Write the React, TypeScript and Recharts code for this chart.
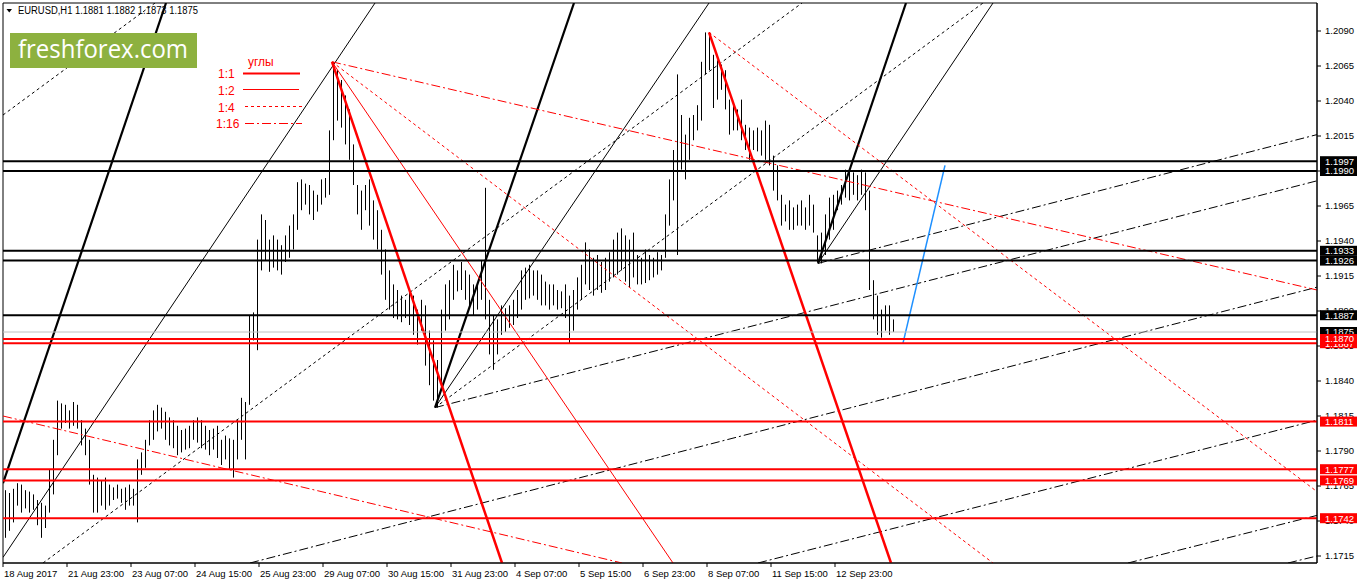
import React from "react";
import { ComposedChart, Bar, XAxis, YAxis, ReferenceLine, ReferenceArea } from "recharts";

const W = 1358;
const H = 584;

// time axis (hour index of H1 bars)
const timeTicks = [0, 32, 64, 96, 128, 160, 192, 224, 256, 288, 320, 352, 384, 416];
const timeLabels = [
  "18 Aug 2017", "21 Aug 23:00", "23 Aug 07:00", "24 Aug 15:00", "25 Aug 23:00",
  "29 Aug 07:00", "30 Aug 15:00", "31 Aug 23:00", "4 Sep 07:00", "5 Sep 15:00",
  "6 Sep 23:00", "8 Sep 07:00", "11 Sep 15:00", "12 Sep 23:00",
];
const priceTicks = [
  1.1715, 1.174, 1.1765, 1.179, 1.1815, 1.184, 1.1865, 1.189,
  1.1915, 1.194, 1.1965, 1.199, 1.2015, 1.204, 1.2065, 1.209,
];

// bar highs / lows (one entry per 2 hours)
const barHighs = [
  1.1762, 1.1760, 1.1763, 1.1767, 1.1766, 1.1762, 1.1761, 1.1759, 1.1755, 1.1753,
  1.1751, 1.1777, 1.1798, 1.1826, 1.1824, 1.1823, 1.1819, 1.1825, 1.1823, 1.1812,
  1.1806, 1.1798, 1.1773, 1.1771, 1.1769, 1.1771, 1.1766, 1.1764, 1.1766, 1.1763,
  1.1764, 1.1766, 1.1763, 1.1784, 1.1789, 1.1798, 1.1812, 1.1819, 1.1823, 1.1821,
  1.1818, 1.1814, 1.1812, 1.1808, 1.1805, 1.1806, 1.1808, 1.1812, 1.1814, 1.1812,
  1.1808, 1.1805, 1.1806, 1.1808, 1.1798, 1.1801, 1.1799, 1.1798, 1.1812, 1.1828,
  1.1825, 1.1887, 1.1889, 1.1941, 1.1959, 1.1955, 1.1941, 1.1944, 1.1941, 1.1937,
  1.1944, 1.1951, 1.1959, 1.1982, 1.1984, 1.1981, 1.1980, 1.1976, 1.1973, 1.1984,
  1.1985, 1.2019, 1.2068, 1.2062, 1.2055, 1.2044, 1.2034, 1.2009, 1.1980, 1.1976,
  1.1980, 1.1984, 1.1969, 1.1962, 1.1948, 1.1934, 1.1919, 1.1909, 1.1905, 1.1901,
  1.1898, 1.1905, 1.1901, 1.1891, 1.1898, 1.1894, 1.1876, 1.1869, 1.1855, 1.1891,
  1.1909, 1.1912, 1.1923, 1.1919, 1.1925, 1.1919, 1.1916, 1.1909, 1.1910, 1.1926,
  1.1978, 1.1898, 1.1887, 1.1884, 1.1894, 1.1892, 1.1894, 1.1898, 1.1905, 1.1919,
  1.1921, 1.1923, 1.1919, 1.1919, 1.1916, 1.1911, 1.1909, 1.1909, 1.1905, 1.1904,
  1.1909, 1.1901, 1.1905, 1.1914, 1.1923, 1.1939, 1.1934, 1.1928, 1.1930, 1.1925,
  1.1928, 1.1932, 1.1941, 1.1946, 1.1949, 1.1944, 1.1941, 1.1946, 1.1930, 1.1928,
  1.1934, 1.1930, 1.1928, 1.1932, 1.1930, 1.1959, 1.1984, 1.2005, 1.2059, 1.2030,
  1.2016, 1.2028, 1.2030, 1.2037, 1.2068, 1.2089, 1.2089, 1.2073, 1.2069, 1.2066,
  1.2062, 1.2041, 1.2037, 1.2034, 1.2041, 1.2023, 1.2021, 1.2019, 1.2021, 1.2019,
  1.2026, 1.2023, 1.2001, 1.1994, 1.1973, 1.1966, 1.1969, 1.1964, 1.1966, 1.1969,
  1.1964, 1.1973, 1.1966, 1.1944, 1.1946, 1.1959, 1.1971, 1.1973, 1.1976, 1.1980,
  1.1991, 1.1992, 1.1989, 1.1987, 1.1991, 1.1989, 1.1976, 1.1912, 1.1901, 1.1891,
  1.1894, 1.1894, 1.1884,
];
const barLows = [
  1.1728, 1.1733, 1.1739, 1.1751, 1.1746, 1.1749, 1.1746, 1.1748, 1.1737, 1.1728,
  1.1735, 1.1746, 1.1759, 1.1787, 1.1806, 1.1810, 1.1806, 1.1808, 1.1806, 1.1794,
  1.1787, 1.1766, 1.1746, 1.1746, 1.1751, 1.1748, 1.1751, 1.1755, 1.1756, 1.1753,
  1.1748, 1.1751, 1.1751, 1.1739, 1.1773, 1.1778, 1.1794, 1.1798, 1.1804, 1.1806,
  1.1798, 1.1794, 1.1792, 1.1787, 1.1789, 1.1791, 1.1792, 1.1798, 1.1796, 1.1792,
  1.1791, 1.1787, 1.1791, 1.1785, 1.1780, 1.1784, 1.1777, 1.1771, 1.1784, 1.1798,
  1.1784, 1.1823, 1.1869, 1.1862, 1.1919, 1.1926, 1.1918, 1.1921, 1.1919, 1.1916,
  1.1925, 1.1928, 1.1934, 1.1948, 1.1962, 1.1966, 1.1959, 1.1955, 1.1961, 1.1966,
  1.1971, 1.1973, 1.2012, 1.2026, 1.2021, 1.2009, 1.1998, 1.1980, 1.1959, 1.1948,
  1.1962, 1.1951, 1.1941, 1.1934, 1.1916, 1.1898, 1.1891, 1.1885, 1.1884, 1.1882,
  1.1885, 1.1880, 1.1873, 1.1866, 1.1876, 1.1851, 1.1837, 1.1826, 1.1821, 1.1837,
  1.1876, 1.1884, 1.1898, 1.1904, 1.1905, 1.1898, 1.1894, 1.1887, 1.1891, 1.1898,
  1.1884, 1.1859, 1.1848, 1.1859, 1.1873, 1.1875, 1.1878, 1.1880, 1.1885, 1.1891,
  1.1898, 1.1899, 1.1901, 1.1898, 1.1894, 1.1894, 1.1891, 1.1894, 1.1891, 1.1892,
  1.1885, 1.1867, 1.1876, 1.1891, 1.1898, 1.1909, 1.1905, 1.1901, 1.1905, 1.1903,
  1.1905, 1.1911, 1.1914, 1.1916, 1.1919, 1.1911, 1.1907, 1.1914, 1.1909, 1.1909,
  1.1910, 1.1912, 1.1914, 1.1916, 1.1919, 1.1928, 1.1951, 1.1969, 1.1930, 1.1991,
  1.1984, 1.1998, 1.2012, 1.2019, 1.2026, 1.2059, 1.2062, 1.2035, 1.2041, 1.2048,
  1.2034, 1.2016, 1.2019, 1.2019, 1.2012, 1.2005, 1.1998, 1.2005, 1.2004, 1.2001,
  1.1998, 1.1994, 1.1976, 1.1969, 1.1951, 1.1954, 1.1948, 1.1948, 1.1951, 1.1951,
  1.1948, 1.1951, 1.1946, 1.1925, 1.1924, 1.1930, 1.1941, 1.1948, 1.1962, 1.1966,
  1.1971, 1.1969, 1.1973, 1.1969, 1.1973, 1.1962, 1.1905, 1.1884, 1.1873, 1.1871,
  1.1876, 1.1873, 1.1875,
];
const FIRST_HOUR = 1;
const HOURS_PER_ENTRY = 2;

// horizontal levels
const blackLevels = [1.1997, 1.199, 1.1933, 1.1926, 1.1887];
const lastPrice = 1.1875;
const redLevels = [1.1867, 1.187, 1.1811, 1.1777, 1.1769, 1.1742];

// angle lines: [hourFrom, priceFrom, hourTo, priceTo]
type Seg = [number, number, number, number];
const blackAngle1x1: Seg[] = [
  [0, 1.1767, 81.5, 1.211],
  [216, 1.1821, 285.5, 1.211],
  [407.5, 1.1924, 451.5, 1.211],
];
const blackAngle1x2: Seg[] = [
  [0, 1.1714, 186, 1.211],
  [216, 1.1821, 353, 1.211],
  [407.5, 1.1924, 495, 1.211],
];
const blackAngle1x4: Seg[] = [
  [0, 1.203, 76, 1.211],
  [20, 1.171, 399.5, 1.211],
  [216, 1.1821, 490, 1.211],
];
const blackAngle1x16: Seg[] = [
  [123.5, 1.171, 657, 1.1907],
  [377.5, 1.171, 657, 1.1812],
  [562.5, 1.171, 657, 1.1744],
  [642.5, 1.171, 657, 1.1715],
  [216, 1.1821, 657, 1.1983],
  [407.5, 1.1924, 657, 1.2016],
];
const redAngle1x1: Seg[] = [
  [164.5, 1.2068, 249.5, 1.171],
  [353, 1.2089, 444, 1.171],
];
const redAngle1x2: Seg[] = [[164.5, 1.2068, 335, 1.171]];
const redAngle1x4: Seg[] = [
  [164.5, 1.2068, 495, 1.171],
  [353, 1.2089, 657, 1.1761],
];
const redAngle1x16: Seg[] = [
  [164.5, 1.2068, 657, 1.1905],
  [0, 1.1815, 309.5, 1.171],
];
const blueLine: Seg[] = [[450, 1.1867, 471, 1.1994]];

const headerText = "EURUSD,H1  1.1881 1.1882 1.1873 1.1875";
const legendTitle = "углы";
const legendItems = ["1:1", "1:2", "1:4", "1:16"];

const FONT = "'Liberation Sans', Arial, sans-serif";
const X_DOMAIN: [number, number] = [0, 657];
const Y_DOMAIN: [number, number] = [1.171, 1.211];
const MARGIN = { top: 3, right: 0, bottom: 0, left: 3 };

const bars = barHighs.map((h, k) => ({
  t: FIRST_HOUR + HOURS_PER_ENTRY * k,
  range: [barLows[k], h],
}));

const BarStick = (props: any) => {
  const { x, y, width, height } = props;
  if (x == null || y == null) return null;
  const cx = Math.round(x + width / 2);
  return <rect x={cx} y={y} width={1} height={Math.max(1, height)} fill="#000" />;
};

const TimeTick = (props: any) => {
  const { x, y, payload } = props;
  const idx = timeTicks.indexOf(payload.value);
  return (
    <text x={x + 1} y={y} dy={8} fontSize={9.5} fill="#000" textAnchor="start" fontFamily={FONT}>
      {timeLabels[idx]}
    </text>
  );
};

const PriceTick = (props: any) => {
  const { x, y, payload } = props;
  return (
    <text x={x} y={y} dy={3.3} fontSize={9.5} fill="#000" textAnchor="start" fontFamily={FONT}>
      {Number(payload.value).toFixed(4)}
    </text>
  );
};

const makeTag = (value: number, bg: string) => (props: any) => {
  const vb = props.viewBox || {};
  const xr = (vb.x || 0) + (vb.width || 0);
  const y = vb.y || 0;
  return (
    <g>
      <rect x={xr + 3} y={y - 5} width={37} height={10} fill={bg} />
      <text x={xr + 8} y={y} dy={3.3} fontSize={9.5} fill="#fff" fontFamily={FONT}>
        {value.toFixed(4)}
      </text>
    </g>
  );
};

const segLines = (segs: Seg[], key: string, stroke: string, width: number, dash?: string) =>
  segs.map((s, i) => (
    <ReferenceLine
      key={key + i}
      segment={[{ x: s[0], y: s[1] }, { x: s[2], y: s[3] }]}
      stroke={stroke}
      strokeWidth={width}
      strokeDasharray={dash}
      ifOverflow="hidden"
    />
  ));

const DASH_1x4 = "3 3";
const DASH_1x16 = "9 3 2 3";

export default function App() {
  return (
    <div style={{ position: "absolute", left: 0, top: 0, width: W, height: H, background: "#fff", fontFamily: FONT }}>
      <ComposedChart width={W} height={H} data={bars} margin={MARGIN}>
        <XAxis
          dataKey="t"
          type="number"
          domain={X_DOMAIN}
          allowDataOverflow
          ticks={timeTicks}
          interval={0}
          height={21}
          tick={<TimeTick />}
          tickSize={4}
          tickMargin={2}
          stroke="#000"
        />
        <YAxis
          orientation="right"
          type="number"
          domain={Y_DOMAIN}
          allowDataOverflow
          ticks={priceTicks}
          interval={0}
          width={41}
          tick={<PriceTick />}
          tickSize={4}
          tickMargin={4}
          stroke="#000"
        />
        <ReferenceArea x1={0} x2={657} y1={1.171} y2={1.211} fill="none" stroke="#000" strokeWidth={1} ifOverflow="visible" />

        {segLines(blackAngle1x16, "b16", "#000", 1, DASH_1x16)}
        {segLines(blackAngle1x4, "b4", "#000", 1, DASH_1x4)}
        {segLines(blackAngle1x2, "b2", "#000", 1)}
        {segLines(blackAngle1x1, "b1", "#000", 2.2)}
        {segLines(redAngle1x16, "r16", "#ff0000", 1, DASH_1x16)}
        {segLines(redAngle1x4, "r4", "#ff0000", 1, DASH_1x4)}
        {segLines(redAngle1x2, "r2", "#ff0000", 1)}
        {segLines(redAngle1x1, "r1", "#ff0000", 2.5)}
        {segLines(blueLine, "bl", "#1e90ff", 1.5)}

        <Bar dataKey="range" barSize={1} shape={<BarStick />} isAnimationActive={false} />

        <ReferenceLine y={lastPrice} stroke="#c0c0c0" strokeWidth={1} />
        {blackLevels.map((v) => (
          <ReferenceLine key={"bk" + v} y={v} stroke="#000" strokeWidth={2} />
        ))}
        {redLevels.map((v) => (
          <ReferenceLine key={"rd" + v} y={v} stroke="#ff0000" strokeWidth={2} />
        ))}
      </ComposedChart>

      {/* price tags layer, drawn above the axis labels with the same scales */}
      <div style={{ position: "absolute", left: 0, top: 0, pointerEvents: "none" }}>
        <ComposedChart width={W} height={H} data={bars} margin={{ top: 3, right: 41, bottom: 21, left: 3 }}>
          <XAxis dataKey="t" type="number" domain={X_DOMAIN} allowDataOverflow hide />
          <YAxis type="number" domain={Y_DOMAIN} allowDataOverflow hide />
          <ReferenceLine y={lastPrice} stroke="none" label={makeTag(lastPrice, "#000")} />
          {blackLevels.map((v) => (
            <ReferenceLine key={"tbk" + v} y={v} stroke="none" label={makeTag(v, "#000")} />
          ))}
          {redLevels.map((v) => (
            <ReferenceLine key={"trd" + v} y={v} stroke="none" label={makeTag(v, "#ff0000")} />
          ))}
        </ComposedChart>
      </div>

      <svg width={W} height={H} style={{ position: "absolute", left: 0, top: 0, pointerEvents: "none" }}>
        <polygon points="6.5,9 12,9 9.25,12.5" fill="#000" />
        <text x={18} y={14} fontSize={10} fill="#000" fontFamily={FONT} textLength={180} lengthAdjust="spacingAndGlyphs">
          {headerText}
        </text>
        <rect x={10} y={33} width={187} height={35} fill="#8db13f" />
        <text x={18} y={58} fontSize={25} fill="#fff" fontFamily="'Open Sans', 'Noto Sans', sans-serif" textLength={170} lengthAdjust="spacingAndGlyphs">
          freshforex.com
        </text>
        <text x={248} y={66} fontSize={12} fill="#ff0000" fontFamily={FONT}>{legendTitle}</text>
        <text x={218} y={78} fontSize={12} fill="#ff0000" fontFamily={FONT}>{legendItems[0]}</text>
        <text x={218} y={95} fontSize={12} fill="#ff0000" fontFamily={FONT}>{legendItems[1]}</text>
        <text x={218} y={112} fontSize={12} fill="#ff0000" fontFamily={FONT}>{legendItems[2]}</text>
        <text x={216} y={128} fontSize={12} fill="#ff0000" fontFamily={FONT}>{legendItems[3]}</text>
        <line x1={243} y1={73.5} x2={300} y2={73.5} stroke="#ff0000" strokeWidth={2.2} />
        <line x1={243} y1={89.5} x2={299} y2={89.5} stroke="#ff0000" strokeWidth={1} />
        <line x1={245} y1={106.5} x2={302} y2={106.5} stroke="#ff0000" strokeWidth={1} strokeDasharray={DASH_1x4} />
        <line x1={245} y1={123.5} x2={302} y2={123.5} stroke="#ff0000" strokeWidth={1} strokeDasharray={DASH_1x16} />
      </svg>
    </div>
  );
}
